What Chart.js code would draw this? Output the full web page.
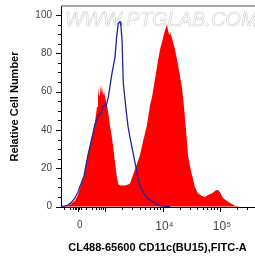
<!DOCTYPE html>
<html>
<head>
<meta charset="utf-8">
<script src="https://cdn.jsdelivr.net/npm/chart.js@4.4.1/dist/chart.umd.min.js"></script>
<style>
html, body { margin: 0; padding: 0; background: #fff; }
#wrap { width: 255px; height: 259px; }
</style>
</head>
<body>
<div id="wrap"><canvas id="flowchart" width="255" height="259"></canvas></div>
<script>
// x positions are in decades on the logicle axis (4 = 10^4, 5 = 10^5, 2.525 = 0)
const redPos = [2.235, 2.322, 2.391, 2.478, 2.530, 2.635, 2.704, 2.774, 2.826, 2.861, 2.878, 2.896, 2.913, 2.930, 2.948, 2.965, 2.983,
    3.017, 3.052, 3.087, 3.122, 3.174, 3.209, 3.235, 3.278, 3.348, 3.400, 3.435, 3.487, 3.539, 3.609, 3.661, 3.730, 3.783, 3.817,
    3.904, 3.957, 4.009, 4.043, 4.078, 4.096, 4.113, 4.130, 4.165, 4.217, 4.270, 4.339, 4.374, 4.409, 4.443, 4.478, 4.513, 4.565,
    4.617, 4.687, 4.739, 4.791, 4.861, 4.930, 4.965, 5.000, 5.052, 5.139, 5.261, 5.348, 5.591];
const redCount = [0, 0.3, 1, 3, 6, 16, 27, 36, 44, 52, 62, 58, 64, 59, 63, 58, 60,
    55, 50, 42, 36, 23, 15, 11.5, 11, 11, 11.5, 12, 16.5, 21, 27, 34, 42.6, 53, 57,
    73, 82, 88, 92, 95, 92, 90, 91, 88, 82, 74, 62, 52, 40, 27, 21, 16.5, 10,
    7, 5.5, 5, 6, 7, 8.5, 8.7, 7.5, 4.5, 2.5, 0.5, 0, 0];

const bluePos = [2.235, 2.287, 2.357, 2.426, 2.478, 2.530, 2.635, 2.704, 2.774, 2.826, 2.878, 2.930, 2.965, 3.000, 3.017, 3.057,
    3.117, 3.174, 3.203, 3.231, 3.261, 3.278, 3.296, 3.318, 3.365, 3.400, 3.435, 3.522, 3.574, 3.609, 3.661, 3.730, 3.835,
    3.904, 4.009, 4.130];
const blueCount = [0, 0.3, 0.8, 2.5, 4.5, 7.6, 16, 27, 36, 43, 47, 49, 52, 53, 52, 57,
    68.7, 78, 88.7, 95.7, 96.5, 94, 87, 64.5, 51, 42, 36, 23, 15, 11, 7.6, 4.5, 2.5,
    1, 0.3, 0];

const yTicks = [0, 20, 40, 60, 80, 100];
const yMinor = [5, 10, 15, 25, 30, 35, 45, 50, 55, 65, 70, 75, 85, 90, 95];
const xMajor = [2.525, 3, 4, 5];
const xLabels = ['0', '', '10\u2074', '10\u2075'];
const xMinor = [2.287, 2.391, 2.443, 2.470, 2.496, 2.553, 2.583, 2.670, 2.774, 2.843, 2.896, 2.939, 2.974,
    3.301, 3.477, 3.602, 3.699, 3.778, 3.845, 3.903, 3.954,
    4.301, 4.477, 4.602, 4.699, 4.778, 4.845, 4.903, 4.954,
    5.301, 5.477];

function toPoints(xs, ys) {
    return xs.map((v, i) => ({ x: v, y: ys[i] }));
}

// watermark + top frame line
const backdrop = {
    id: 'backdrop',
    beforeDatasetsDraw(chart) {
        const { ctx, chartArea } = chart;
        ctx.save();
        ctx.font = 'italic 20px "Liberation Sans"';
        ctx.strokeStyle = '#d0d0d0';
        ctx.lineWidth = 0.6;
        ctx.textBaseline = 'alphabetic';
        ctx.strokeText('WWW.PTGLAB.COM', chartArea.left + 4, chartArea.top + 19.5);
        ctx.restore();
    },
    afterDraw(chart) {
        const { ctx, chartArea } = chart;
        ctx.save();
        ctx.strokeStyle = '#8a8a8a';
        ctx.lineWidth = 1.5;
        ctx.beginPath();
        ctx.moveTo(chartArea.left, chartArea.top);
        ctx.lineTo(chart.width, chartArea.top);
        ctx.stroke();
        ctx.restore();
    }
};

// major / minor tick marks outside the axes
const tickMarks = {
    id: 'tickMarks',
    afterDraw(chart) {
        const { ctx, chartArea, scales } = chart;
        const x = scales.x, y = scales.y;
        ctx.save();
        ctx.strokeStyle = '#000';
        ctx.lineWidth = 1;
        ctx.beginPath();
        xMajor.forEach(v => {
            const p = Math.round(x.getPixelForValue(v)) + 0.5;
            ctx.moveTo(p, chartArea.bottom); ctx.lineTo(p, chartArea.bottom + 5);
        });
        xMinor.forEach(v => {
            const p = Math.round(x.getPixelForValue(v)) + 0.5;
            ctx.moveTo(p, chartArea.bottom); ctx.lineTo(p, chartArea.bottom + 3);
        });
        yTicks.forEach(v => {
            const p = Math.round(y.getPixelForValue(v)) + 0.5;
            ctx.moveTo(chartArea.left, p); ctx.lineTo(chartArea.left - 5, p);
        });
        yMinor.forEach(v => {
            const p = Math.round(y.getPixelForValue(v)) + 0.5;
            ctx.moveTo(chartArea.left, p); ctx.lineTo(chartArea.left - 3, p);
        });
        ctx.stroke();
        ctx.restore();
    }
};

const ctx = document.getElementById('flowchart').getContext('2d');
const chart = new Chart(ctx, {
    type: 'line',
    data: {
        datasets: [
            {
                label: 'Isotype',
                data: toPoints(bluePos, blueCount),
                borderColor: '#2323a0',
                borderWidth: 1.3,
                pointRadius: 0,
                fill: false,
                tension: 0,
                order: 0
            },
            {
                label: 'CD11c',
                data: toPoints(redPos, redCount),
                borderWidth: 0,
                borderColor: 'rgba(0,0,0,0)',
                backgroundColor: '#ff0000',
                pointRadius: 0,
                fill: 'origin',
                tension: 0,
                order: 1
            }
        ]
    },
    options: {
        responsive: false,
        animation: false,
        layout: { padding: { top: 6, right: 1, left: 0, bottom: 0 } },
        plugins: {
            legend: { display: false },
            tooltip: { enabled: false }
        },
        scales: {
            x: {
                type: 'linear',
                min: 2.235,
                max: 5.591,
                afterFit(scale) {
                    scale.height = 52;
                    scale.paddingLeft = 0;
                    scale.paddingRight = 0;
                },
                afterBuildTicks(scale) { scale.ticks = xMajor.map(v => ({ value: v })); },
                ticks: {
                    autoSkip: false,
                    maxRotation: 0,
                    padding: 12,
                    labelOffset: 2,
                    color: '#444',
                    font: (c) => ({ family: 'Liberation Sans', size: c.index === 0 ? 10 : 12 }),
                    callback: (value, index) => xLabels[index]
                },
                grid: { drawOnChartArea: false, drawTicks: false },
                border: { display: true, color: '#000', width: 1 },
                title: {
                    display: true,
                    text: 'CL488-65600 CD11c(BU15),FITC-A',
                    color: '#000',
                    font: { family: 'Liberation Sans', size: 11, weight: 'bold' },
                    padding: { top: 0, bottom: 4 }
                }
            },
            y: {
                min: -0.2,
                max: 104.7,
                afterFit(scale) {
                    scale.width = 61;
                    scale.paddingTop = 0;
                    scale.paddingBottom = 0;
                },
                afterBuildTicks(scale) { scale.ticks = yTicks.map(v => ({ value: v })); },
                ticks: {
                    padding: 9,
                    color: '#444',
                    font: { family: 'Liberation Sans', size: 10 }
                },
                grid: { drawOnChartArea: false, drawTicks: false },
                border: { display: true, color: '#000', width: 1 },
                title: {
                    display: true,
                    text: 'Relative Cell Number',
                    color: '#000',
                    font: { family: 'Liberation Sans', size: 11, weight: 'bold' },
                    padding: { top: 8, bottom: 0 }
                }
            }
        }
    },
    plugins: [backdrop, tickMarks]
});
</script>
</body>
</html>
